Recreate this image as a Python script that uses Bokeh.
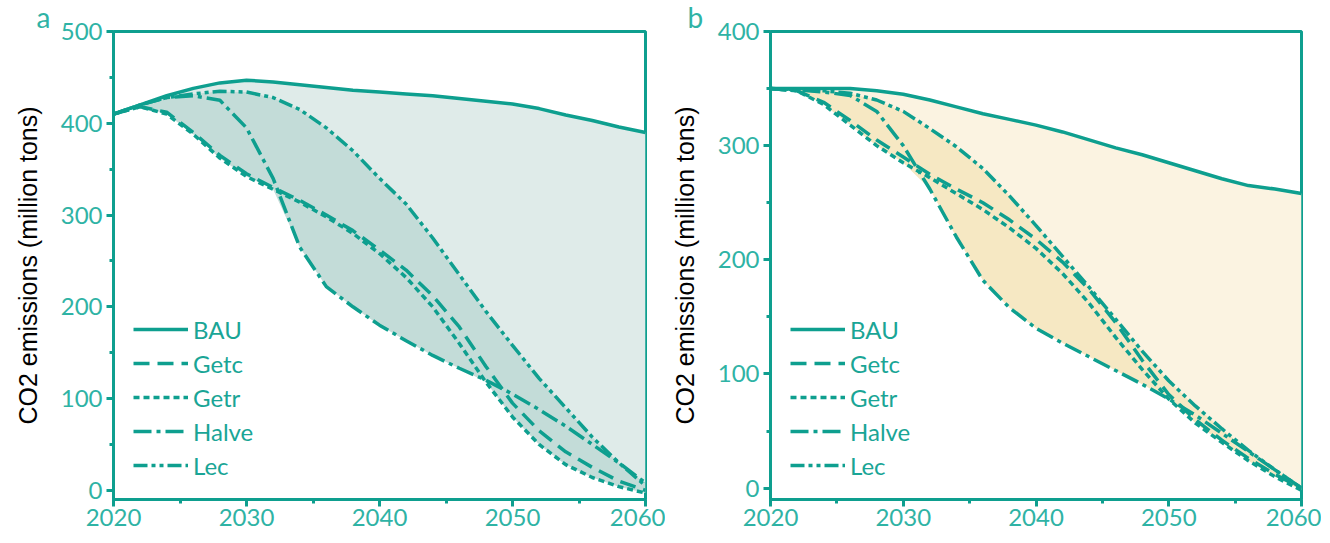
from bokeh.plotting import figure
from bokeh.models import FixedTicker, Legend, LegendItem
from bokeh.layouts import row
from bokeh.embed import file_html
from bokeh.resources import INLINE
import numpy as np

years = [2020, 2022, 2024, 2026, 2028, 2030, 2032, 2034, 2036, 2038, 2040,
         2042, 2044, 2046, 2048, 2050, 2052, 2054, 2056, 2058, 2060]

# Panel a
bau_a = [410, 420, 430, 438, 444, 447, 445, 442, 439, 436, 434, 432, 430, 427, 424, 421, 416, 409, 403, 396, 390]
getc_a = [410, 418, 412, 390, 365, 345, 330, 316, 300, 283, 262, 240, 212, 178, 135, 95, 65, 42, 25, 10, 0]
getr_a = [410, 418, 410, 388, 362, 342, 328, 314, 298, 280, 258, 232, 200, 160, 118, 80, 50, 28, 14, 4, -3]
halve_a = [410, 420, 428, 430, 425, 395, 340, 265, 222, 200, 180, 163, 147, 133, 120, 105, 88, 70, 50, 30, 8]
lec_a = [410, 420, 428, 432, 435, 434, 428, 415, 395, 370, 340, 312, 275, 235, 195, 158, 122, 90, 58, 30, 5]

# Panel b
bau_b = [350, 350, 350, 350, 348, 345, 340, 334, 328, 323, 318, 312, 305, 298, 292, 285, 278, 271, 265, 262, 258]
getc_b = [350, 348, 338, 322, 305, 290, 275, 262, 250, 235, 218, 198, 174, 145, 112, 82, 60, 42, 26, 12, 0]
getr_b = [350, 348, 336, 318, 300, 285, 272, 258, 244, 228, 210, 188, 162, 132, 104, 78, 57, 40, 24, 10, -2]
halve_b = [350, 349, 347, 344, 330, 300, 262, 220, 182, 158, 140, 127, 115, 103, 91, 78, 64, 48, 32, 16, 0]
lec_b = [350, 349, 348, 346, 340, 330, 315, 299, 280, 256, 230, 203, 176, 148, 120, 94, 72, 52, 33, 16, 0]

x_major = [2020, 2030, 2040, 2050, 2060]
x_minor = [2025, 2035, 2045, 2055]

TEAL = "#0e9f8f"
TICK_TEXT = "#2fb3a5"
LEGEND_TEXT = "#1aa596"


def make_panel(letter, bau, getc, getr, halve, lec, ymax, yticks, yminor, light, dark,
               border_left, frame_w, letter_offset):
    p = figure(frame_width=frame_w, frame_height=468, x_range=(2020, 2060), y_range=(-10, ymax),
               output_backend="svg", toolbar_location=None,
               min_border_left=border_left, min_border_right=20, min_border_top=31, min_border_bottom=30)
    p.grid.visible = False
    p.outline_line_color = TEAL
    p.outline_line_width = 3
    p.background_fill_color = "white"
    p.border_fill_color = "white"

    p.title.text = letter
    p.title.align = "left"
    p.title.offset = letter_offset
    p.title.standoff = -5
    p.title.text_font = "Lato"
    p.title.text_font_size = "28px"
    p.title.text_font_style = "normal"
    p.title.text_color = TICK_TEXT

    scen = np.array([getc, getr, halve, lec], dtype=float)
    smax = scen.max(axis=0)
    smin = scen.min(axis=0)
    p.varea(x=years, y1=smax, y2=bau, fill_color=light)
    p.varea(x=years, y1=smin, y2=smax, fill_color=dark)

    lw = 3.5
    r_bau = p.line(years, bau, line_color=TEAL, line_width=lw)
    r_getc = p.line(years, getc, line_color=TEAL, line_width=lw, line_dash="16 8")
    r_getr = p.line(years, getr, line_color=TEAL, line_width=lw, line_dash="6 4")
    r_halve = p.line(years, halve, line_color=TEAL, line_width=lw, line_dash="18 5 4 5")
    r_lec = p.line(years, lec, line_color=TEAL, line_width=lw, line_dash="14 4 4 4 4 4")

    legend = Legend(items=[
        LegendItem(label="BAU", renderers=[r_bau]),
        LegendItem(label="Getc", renderers=[r_getc]),
        LegendItem(label="Getr", renderers=[r_getr]),
        LegendItem(label="Halve", renderers=[r_halve]),
        LegendItem(label="Lec", renderers=[r_lec]),
    ], location=(20, 17))
    legend.glyph_width = 55
    legend.glyph_height = 34
    legend.label_height = 34
    legend.label_standoff = 5
    legend.padding = 0
    legend.margin = 0
    legend.spacing = 0
    legend.border_line_alpha = 0
    legend.background_fill_alpha = 0
    legend.label_text_font = "Lato"
    legend.label_text_font_size = "24px"
    legend.label_text_color = LEGEND_TEXT
    p.add_layout(legend)

    for ax in (p.xaxis[0], p.yaxis[0]):
        ax.axis_line_color = TEAL
        ax.axis_line_width = 3
        ax.major_tick_line_color = TEAL
        ax.major_tick_line_width = 3
        ax.minor_tick_line_color = TEAL
        ax.minor_tick_line_width = 3
        ax.major_tick_in = 0
        ax.major_tick_out = 7
        ax.minor_tick_in = 0
        ax.minor_tick_out = 4
        ax.major_label_text_font = "Lato"
        ax.major_label_text_font_size = "24px"
        ax.major_label_text_color = TICK_TEXT

    p.xaxis[0].ticker = FixedTicker(ticks=x_major, minor_ticks=x_minor)
    p.xaxis[0].major_label_standoff = 2
    p.yaxis[0].ticker = FixedTicker(ticks=yticks, minor_ticks=yminor)
    p.yaxis[0].major_label_standoff = 4
    p.yaxis[0].axis_label = "CO2 emissions (million tons)"
    p.yaxis[0].axis_label_text_font = "Liberation Sans"
    p.yaxis[0].axis_label_text_font_style = "normal"
    p.yaxis[0].axis_label_text_font_size = "25px"
    p.yaxis[0].axis_label_text_color = "black"
    p.yaxis[0].axis_label_standoff = 16
    return p


pa = make_panel("a", bau_a, getc_a, getr_a, halve_a, lec_a, 500,
                [0, 100, 200, 300, 400, 500], [50, 150, 250, 350, 450],
                "#dfebe9", "#c3dcd8", 113, 532, -77)
pb = make_panel("b", bau_b, getc_b, getr_b, halve_b, lec_b, 400,
                [0, 100, 200, 300, 400], [50, 150, 250, 350],
                "#fbf3e1", "#f6e8c3", 105, 531, -83)

layout = row(pa, pb)
open("out.html", "w").write(file_html(layout, INLINE))
